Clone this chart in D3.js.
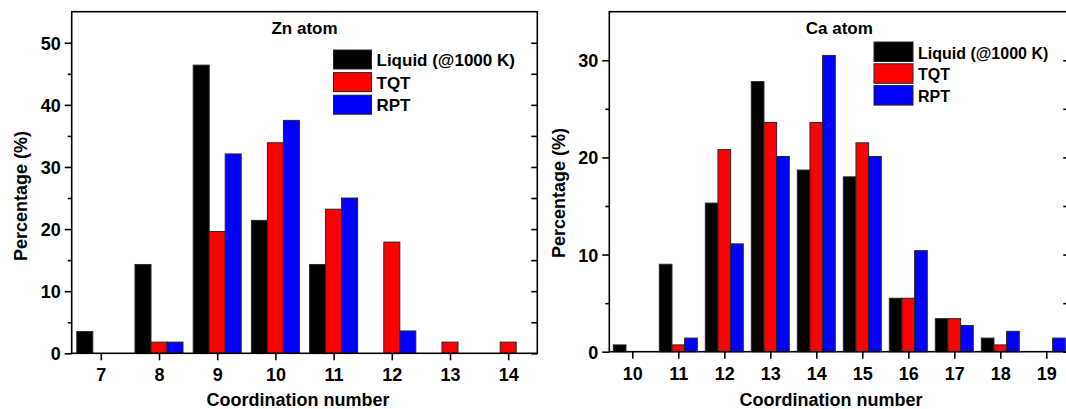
<!DOCTYPE html>
<html><head><meta charset="utf-8">
<script src="https://cdn.jsdelivr.net/npm/d3@7"></script>
<style>body{margin:0;overflow:hidden;background:#fff} svg{display:block}</style>
</head><body><svg id="c" width="1066" height="409"></svg>
<script>
// ---- data ----
const znCategories = [7, 8, 9, 10, 11, 12, 13, 14];
const znLiquid = [3.5, 14.3, 46.4, 21.4, 14.3, 0, 0, 0];
const znTQT    = [0, 1.8, 19.6, 33.9, 23.2, 17.9, 1.8, 1.8];
const znRPT    = [0, 1.8, 32.1, 37.5, 25.0, 3.6, 0, 0];

const caCategories = [10, 11, 12, 13, 14, 15, 16, 17, 18, 19];
const caLiquid = [0.7, 9.0, 15.3, 27.8, 18.7, 18.0, 5.5, 3.4, 1.4, 0];
const caTQT    = [0, 0.7, 20.8, 23.6, 23.6, 21.5, 5.5, 3.4, 0.7, 0];
const caRPT    = [0, 1.4, 11.1, 20.1, 30.5, 20.1, 10.4, 2.7, 2.1, 1.4];

const seriesNames = ["Liquid (@1000 K)", "TQT", "RPT"];
const seriesColors = ["#000000", "#ff0000", "#0000ff"];
const znYTicks = [0, 10, 20, 30, 40, 50];
const znYMinor = [5, 15, 25, 35, 45];
const caYTicks = [0, 10, 20, 30];
const caYMinor = [5, 15, 25];
const xTitle = "Coordination number";
const yTitle = "Percentage (%)";

const svg = d3.select("#c");
const FONT = "'Liberation Sans', Arial, Helvetica, sans-serif";
const BW = 0.275;

function panel(cfg) {
  const g = svg.append("g");
  const x = d3.scaleLinear().domain(cfg.xDomain).range([cfg.left, cfg.right]);
  const y = d3.scaleLinear().domain([0, cfg.yMax]).range([cfg.bottom, cfg.top]);

  // bars
  cfg.series.forEach((vals, s) => {
    const data = cfg.categories.map((c, j) => ({c, v: vals[j]})).filter(d => d.v > 0);
    g.append("g").selectAll("rect").data(data).join("rect")
      .attr("x", d => x(d.c + (s - 1) * BW - BW / 2))
      .attr("width", x(cfg.xDomain[0] + BW) - x(cfg.xDomain[0]))
      .attr("y", d => y(d.v))
      .attr("height", d => y(0) - y(d.v))
      .attr("fill", seriesColors[s])
      .attr("stroke", "#262626")
      .attr("stroke-width", 1);
  });

  // frame
  g.append("rect")
    .attr("x", cfg.left).attr("y", cfg.top)
    .attr("width", cfg.right - cfg.left).attr("height", cfg.bottom - cfg.top)
    .attr("fill", "none").attr("stroke", "#000").attr("stroke-width", 1.6);

  const styleAxis = sel => {
    sel.select(".domain").remove();
    sel.selectAll(".tick line").attr("stroke", "#000").attr("stroke-width", 1.6);
    sel.selectAll(".tick text").attr("fill", "#000")
      .style("font-family", FONT).style("font-weight", "bold").style("font-size", "18px");
  };

  // bottom axis
  const xa = g.append("g").attr("transform", `translate(0,${cfg.bottom})`)
    .call(d3.axisBottom(x).tickValues(cfg.categories).tickSize(7).tickSizeOuter(0).tickFormat(d3.format("d")))
    .call(styleAxis);
  xa.selectAll(".tick text").attr("y", 28).attr("dy", 0);

  // left axis major
  const ya = g.append("g").attr("transform", `translate(${cfg.left},0)`)
    .call(d3.axisLeft(y).tickValues(cfg.yTicks).tickSize(7).tickSizeOuter(0).tickPadding(4).tickFormat(d3.format("d")))
    .call(styleAxis);
  ya.selectAll(".tick text").attr("dy", "0.36em");
  // left minor
  g.append("g").attr("transform", `translate(${cfg.left},0)`)
    .call(d3.axisLeft(y).tickValues(cfg.yMinor).tickSize(4).tickSizeOuter(0).tickFormat(""))
    .call(styleAxis);
  // right inner ticks
  g.append("g").attr("transform", `translate(${cfg.right},0)`)
    .call(d3.axisLeft(y).tickValues(cfg.yTicks.concat(cfg.yMinor)).tickSize(6).tickSizeOuter(0).tickFormat(""))
    .call(styleAxis);

  // titles
  g.append("text").attr("x", (cfg.left + cfg.right) / 2).attr("y", 33.5)
    .attr("text-anchor", "middle").style("font-family", FONT).style("font-weight", "bold")
    .style("font-size", "17px").text(cfg.title);
  g.append("text").attr("x", cfg.xTitleX).attr("y", 406)
    .attr("text-anchor", "middle").style("font-family", FONT).style("font-weight", "bold")
    .style("font-size", "18px").text(xTitle);
  g.append("text").attr("transform", `translate(${cfg.yTitleX},${cfg.yTitleY}) rotate(-90)`)
    .attr("text-anchor", "middle").style("font-family", FONT).style("font-weight", "bold")
    .style("font-size", "18px").text(yTitle);

  // legend
  const lg = g.append("g");
  seriesNames.forEach((name, i) => {
    const yy = cfg.legY + i * cfg.legStep;
    lg.append("rect").attr("x", cfg.legX).attr("y", yy)
      .attr("width", cfg.legW).attr("height", cfg.legH)
      .attr("fill", seriesColors[i]).attr("stroke", "#262626").attr("stroke-width", 1);
    lg.append("text").attr("x", cfg.legX + cfg.legW + 5).attr("y", yy + cfg.legH - 3)
      .style("font-family", FONT).style("font-weight", "bold")
      .style("font-size", cfg.legFont + "px").attr("fill", "#000").text(name);
  });
}

panel({
  categories: znCategories, series: [znLiquid, znTQT, znRPT],
  xDomain: [6.5, 14.5], yMax: 55, yTicks: znYTicks, yMinor: znYMinor,
  left: 71.7, right: 537.3, top: 11.7, bottom: 353.3,
  title: "Zn atom", xTitleX: 298, yTitleX: 27, yTitleY: 196,
  legX: 333.5, legY: 50, legW: 38, legH: 19, legStep: 22.6, legFont: 17
});

panel({
  categories: caCategories, series: [caLiquid, caTQT, caRPT],
  xDomain: [9.5, 19.5], yMax: 35, yTicks: caYTicks, yMinor: caYMinor,
  left: 609.3, right: 1069.3, top: 11.7, bottom: 351.7,
  title: "Ca atom", xTitleX: 831, yTitleX: 565, yTitleY: 193,
  legX: 874, legY: 42, legW: 39, legH: 19.5, legStep: 21.8, legFont: 16
});
</script></body></html>
